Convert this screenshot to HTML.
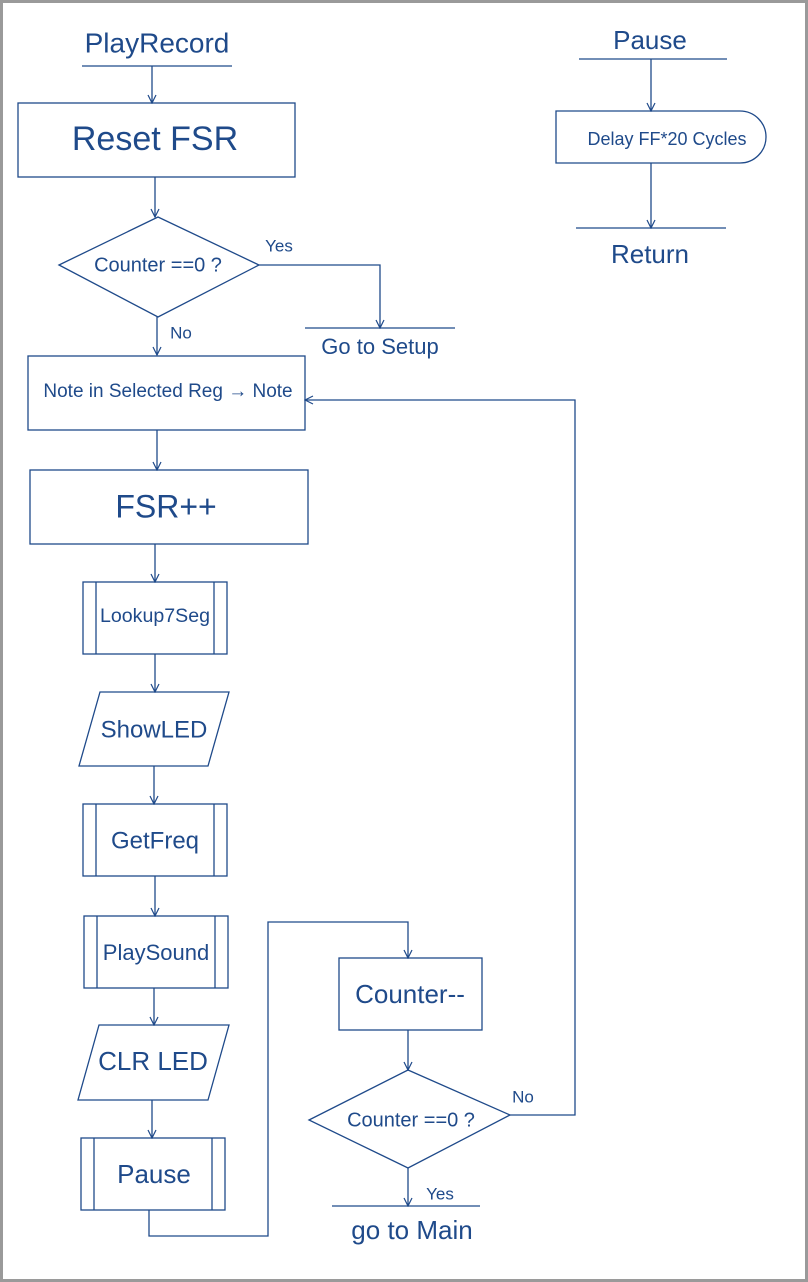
<!DOCTYPE html>
<html><head><meta charset="utf-8"><style>
html,body{margin:0;padding:0;background:#fff}
svg{display:block}
text{font-family:"Liberation Sans",sans-serif;fill:#1f4a8a;text-anchor:middle;dominant-baseline:middle}
</style></head><body>
<svg width="808" height="1282" viewBox="0 0 808 1282" xmlns="http://www.w3.org/2000/svg">
<defs><marker id="a" markerWidth="10" markerHeight="10" refX="9" refY="5" orient="auto" markerUnits="userSpaceOnUse"><path d="M1,1 L9,5 L1,9" fill="none" stroke="#1f4a8a" stroke-width="1.2"/></marker></defs>
<rect x="1.5" y="1.5" width="805" height="1279" fill="none" stroke="#9a9a9a" stroke-width="3"/>
<g fill="none" stroke="#1f4a8a" stroke-width="1.3">
<line x1="82" y1="66" x2="232" y2="66"/>
<line x1="152" y1="66" x2="152" y2="103" marker-end="url(#a)"/>
<rect x="18" y="103" width="277" height="74"/>
<line x1="155" y1="177" x2="155" y2="217" marker-end="url(#a)"/>
<polygon points="59,265 158,217 259,265 158,317"/>
<polyline points="259,265 380,265 380,328" marker-end="url(#a)"/>
<line x1="305" y1="328" x2="455" y2="328"/>
<line x1="157" y1="317" x2="157" y2="355" marker-end="url(#a)"/>
<rect x="28" y="356" width="277" height="74"/>
<polyline points="510,1115 575,1115 575,400 305,400" marker-end="url(#a)"/>
<line x1="157" y1="430" x2="157" y2="470" marker-end="url(#a)"/>
<rect x="30" y="470" width="278" height="74"/>
<line x1="155" y1="544" x2="155" y2="582" marker-end="url(#a)"/>
<rect x="83" y="582" width="144" height="72"/><line x1="96" y1="582" x2="96" y2="654"/><line x1="214" y1="582" x2="214" y2="654"/>
<line x1="155" y1="654" x2="155" y2="692" marker-end="url(#a)"/>
<polygon points="100,692 229,692 208,766 79,766"/>
<line x1="154" y1="766" x2="154" y2="804" marker-end="url(#a)"/>
<rect x="83" y="804" width="144" height="72"/><line x1="96" y1="804" x2="96" y2="876"/><line x1="214" y1="804" x2="214" y2="876"/>
<line x1="155" y1="876" x2="155" y2="916" marker-end="url(#a)"/>
<rect x="84" y="916" width="144" height="72"/><line x1="97" y1="916" x2="97" y2="988"/><line x1="215" y1="916" x2="215" y2="988"/>
<line x1="154" y1="988" x2="154" y2="1025" marker-end="url(#a)"/>
<polygon points="99,1025 229,1025 208,1100 78,1100"/>
<line x1="152" y1="1100" x2="152" y2="1138" marker-end="url(#a)"/>
<rect x="81" y="1138" width="144" height="72"/><line x1="94" y1="1138" x2="94" y2="1210"/><line x1="212" y1="1138" x2="212" y2="1210"/>
<polyline points="149,1210 149,1236 268,1236 268,922 408,922 408,958" marker-end="url(#a)"/>
<rect x="339" y="958" width="143" height="72"/>
<line x1="408" y1="1030" x2="408" y2="1070" marker-end="url(#a)"/>
<polygon points="309,1120 408,1070 510,1115 408,1168"/>
<line x1="408" y1="1168" x2="408" y2="1206" marker-end="url(#a)"/>
<line x1="332" y1="1206" x2="480" y2="1206"/>
<line x1="579" y1="59" x2="727" y2="59"/>
<line x1="651" y1="59" x2="651" y2="111" marker-end="url(#a)"/>
<path d="M556,111 H740 A26,26 0 0 1 740,163 H556 Z"/>
<line x1="651" y1="163" x2="651" y2="228" marker-end="url(#a)"/>
<line x1="576" y1="228" x2="726" y2="228"/>
</g>
<text x="157" y="45" font-size="28">PlayRecord</text>
<text x="155" y="141" font-size="34">Reset  FSR</text>
<text x="158" y="266" font-size="20">Counter ==0 ?</text>
<text x="279" y="247" font-size="17">Yes</text>
<text x="181" y="334" font-size="17">No</text>
<text x="380" y="348" font-size="22">Go to Setup</text>
<text x="168" y="392" font-size="19">Note in Selected Reg → Note</text>
<text x="166" y="509" font-size="32">FSR++</text>
<text x="155" y="617" font-size="19" textLength="110" lengthAdjust="spacingAndGlyphs">Lookup7Seg</text>
<text x="154" y="731" font-size="24">ShowLED</text>
<text x="155" y="842" font-size="24">GetFreq</text>
<text x="156" y="954" font-size="22">PlaySound</text>
<text x="153" y="1063" font-size="26">CLR  LED</text>
<text x="154" y="1176" font-size="26">Pause</text>
<text x="410" y="996" font-size="26">Counter--</text>
<text x="411" y="1121" font-size="20">Counter ==0 ?</text>
<text x="523" y="1098" font-size="17">No</text>
<text x="440" y="1195" font-size="17">Yes</text>
<text x="412" y="1232" font-size="26">go to Main</text>
<text x="650" y="42" font-size="26">Pause</text>
<text x="667" y="140" font-size="18">Delay FF*20 Cycles</text>
<text x="650" y="256" font-size="26">Return</text>
</svg>
</body></html>
